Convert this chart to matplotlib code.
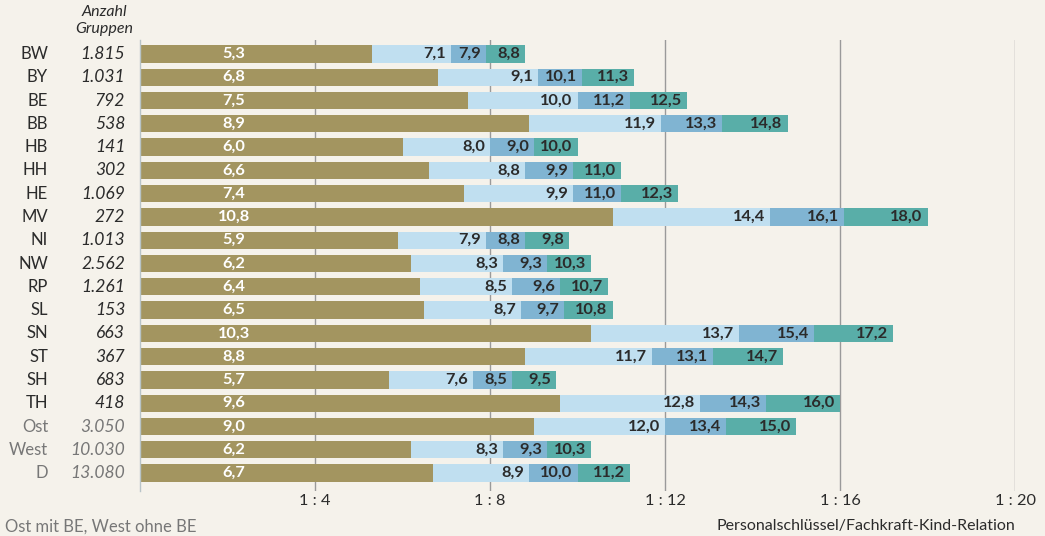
import matplotlib
matplotlib.use('Agg')

import matplotlib.pyplot as plt
from matplotlib.ticker import FixedLocator

plt.rcParams['font.family'] = ['Lato', 'DejaVu Sans']

# data
laender = ['BW', 'BY', 'BE', 'BB', 'HB', 'HH', 'HE', 'MV', 'NI', 'NW',
           'RP', 'SL', 'SN', 'ST', 'SH', 'TH', 'Ost', 'West', 'D']
gruppen = ['1.815', '1.031', '792', '538', '141', '302', '1.069', '272', '1.013', '2.562',
           '1.261', '153', '663', '367', '683', '418', '3.050', '10.030', '13.080']
stufe1 = [5.3, 6.8, 7.5, 8.9, 6.0, 6.6, 7.4, 10.8, 5.9, 6.2, 6.4, 6.5, 10.3, 8.8, 5.7, 9.6, 9.0, 6.2, 6.7]
stufe2 = [7.1, 9.1, 10.0, 11.9, 8.0, 8.8, 9.9, 14.4, 7.9, 8.3, 8.5, 8.7, 13.7, 11.7, 7.6, 12.8, 12.0, 8.3, 8.9]
stufe3 = [7.9, 10.1, 11.2, 13.3, 9.0, 9.9, 11.0, 16.1, 8.8, 9.3, 9.6, 9.7, 15.4, 13.1, 8.5, 14.3, 13.4, 9.3, 10.0]
stufe4 = [8.8, 11.3, 12.5, 14.8, 10.0, 11.0, 12.3, 18.0, 9.8, 10.3, 10.7, 10.8, 17.2, 14.7, 9.5, 16.0, 15.0, 10.3, 11.2]
xticks = [4, 8, 12, 16, 20]
summary = ['Ost', 'West', 'D']

bg = '#f5f2eb'
farben = ['#a39560', '#c0dff0', '#80b4d2', '#59aea8']
dunkel = '#2b2b2b'
grau = '#777777'

fig = plt.figure(figsize=(10.45, 5.36), dpi=100, facecolor=bg)
ax = fig.add_axes([140 / 1045, 1 - 491 / 536, 875 / 1045, 451 / 536])
ax.set_facecolor(bg)

y = list(range(len(laender)))
h = 0.74

def fmt(v):
    return ('%.1f' % v).replace('.', ',')

# draw back to front so each segment starts where the previous ends
for vals, c in zip([stufe4, stufe3, stufe2, stufe1], farben[::-1]):
    ax.barh(y, vals, height=h, color=c, zorder=2)

for i in y:
    ax.text(2.15, i, fmt(stufe1[i]), ha='center', va='center', color='white',
            fontsize=11.8, fontweight='bold', zorder=3)
    for vals in [stufe2, stufe3, stufe4]:
        ax.annotate(fmt(vals[i]), (vals[i], i), xytext=(-3.5, 0), textcoords='offset points',
                    ha='right', va='center', color=dunkel, fontsize=11.8,
                    fontweight='bold', zorder=3)
    col = grau if laender[i] in summary else dunkel
    ax.text(-0.105, i, laender[i], transform=ax.get_yaxis_transform(), ha='right',
            va='center', fontsize=12, color=col)
    ax.text(-0.017, i, gruppen[i], transform=ax.get_yaxis_transform(), ha='right',
            va='center', fontsize=12.6, color=col, style='italic')

ax.text(104 / 1045, 1 - 12 / 536, 'Anzahl', transform=fig.transFigure, ha='center',
        va='center', fontsize=11.5, style='italic', color=dunkel)
ax.text(104 / 1045, 1 - 29 / 536, 'Gruppen', transform=fig.transFigure, ha='center',
        va='center', fontsize=11.5, style='italic', color=dunkel)

ax.set_xlim(0, 20)
ax.set_ylim(18.77, -0.6)
ax.xaxis.set_major_locator(FixedLocator(xticks))
ax.set_xticklabels(['1 : %d' % t for t in xticks])
ax.tick_params(axis='x', length=0, labelsize=11.8, labelcolor=dunkel, pad=2.5)
ax.tick_params(axis='y', left=False, labelleft=False)
for t in xticks:
    ax.axvline(t, color='#9a9a9a', lw=1, zorder=1)
for s in ['top', 'right', 'bottom']:
    ax.spines[s].set_visible(False)
ax.spines['left'].set_color('#b8c4c8')
ax.spines['left'].set_linewidth(1)

fig.text(5 / 1045, 1 - 527 / 536, 'Ost mit BE, West ohne BE', ha='left', va='center',
         fontsize=12, color=grau)
fig.text(1015 / 1045, 1 - 526 / 536, 'Personalschlüssel/Fachkraft-Kind-Relation',
         ha='right', va='center', fontsize=11.5, color=dunkel)

fig.savefig('out.png', dpi=100, facecolor=bg)
